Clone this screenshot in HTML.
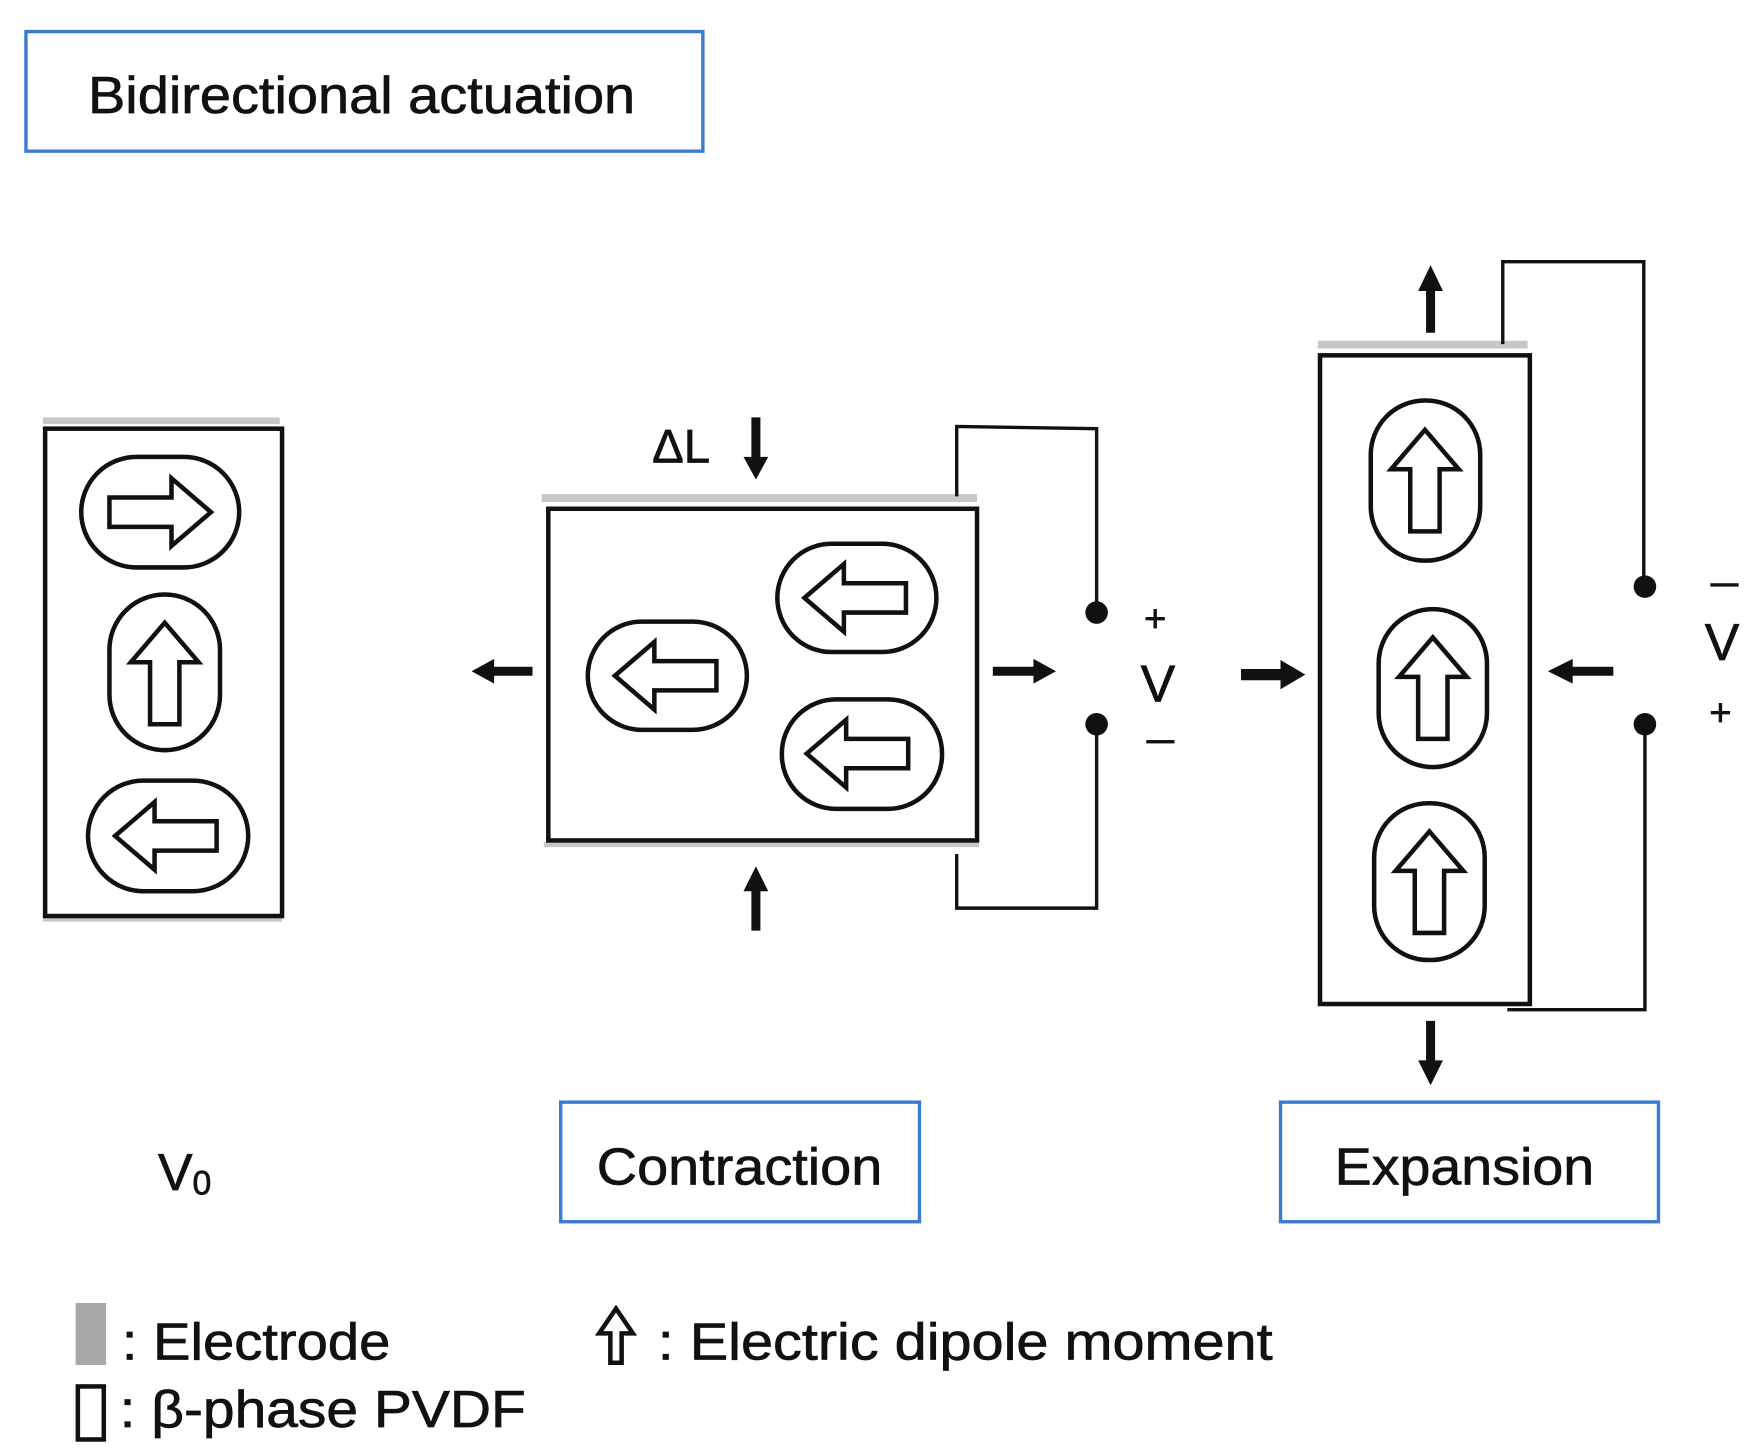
<!DOCTYPE html>
<html><head><meta charset="utf-8"><style>
html,body{margin:0;padding:0;background:#fff}
svg{display:block}
text{font-family:"Liberation Sans",sans-serif;fill:#111;stroke:#111;stroke-width:0.6}
</style></head><body>
<svg width="1760" height="1453" viewBox="0 0 1560 1288" preserveAspectRatio="none" xmlns="http://www.w3.org/2000/svg">
<defs>
<path id="ha" d="M-45,-13 L10,-13 L10,-30 L45,0 L10,30 L10,13 L-45,13 Z" fill="#fff" stroke="#111" stroke-width="4" stroke-linejoin="miter"/>
</defs>
<!-- title -->
<rect x="23" y="28" width="600" height="106" fill="none" stroke="#3b7bd0" stroke-width="3"/>
<text x="78" y="100" font-size="46" textLength="485" lengthAdjust="spacingAndGlyphs">Bidirectional actuation</text>

<!-- left box -->
<rect x="38" y="370" width="210" height="6" fill="#c8c8c8"/>
<rect x="38" y="812" width="212" height="5" fill="#c8c8c8"/>
<rect x="40" y="380" width="210" height="432" fill="none" stroke="#111" stroke-width="4"/>
<rect x="72" y="405" width="140" height="98" rx="49" fill="none" stroke="#111" stroke-width="4"/>
<use href="#ha" transform="translate(142,454)"/>
<rect x="97" y="527" width="98" height="138" rx="49" fill="none" stroke="#111" stroke-width="4"/>
<use href="#ha" transform="translate(146,597) rotate(-90)"/>
<rect x="78" y="692" width="142" height="98" rx="49" fill="none" stroke="#111" stroke-width="4"/>
<use href="#ha" transform="translate(147,741) rotate(180)"/>

<!-- middle -->
<rect x="480" y="438" width="386" height="7" fill="#c8c8c8"/>
<rect x="482" y="746" width="386" height="5" fill="#c8c8c8"/>
<rect x="486" y="451" width="380" height="294" fill="none" stroke="#111" stroke-width="4"/>
<rect x="521" y="551" width="141" height="96" rx="48" fill="none" stroke="#111" stroke-width="4"/>
<use href="#ha" transform="translate(590,599) rotate(180)"/>
<rect x="689" y="482" width="141" height="96" rx="48" fill="none" stroke="#111" stroke-width="4"/>
<use href="#ha" transform="translate(758,530) rotate(180)"/>
<rect x="693" y="620" width="142" height="97" rx="48" fill="none" stroke="#111" stroke-width="4"/>
<use href="#ha" transform="translate(760,668) rotate(180)"/>
<text x="578" y="410" font-size="42">ΔL</text>
<path d="M670,370 L670,408" stroke="#111" stroke-width="8"/><path d="M659,405 L681,405 L670,425Z" fill="#111"/>
<path d="M670,825 L670,787" stroke="#111" stroke-width="8"/><path d="M659,790 L681,790 L670,768Z" fill="#111"/>
<path d="M472,595 L436,595" stroke="#111" stroke-width="8"/><path d="M438,584 L438,606 L418,595Z" fill="#111"/>
<path d="M880,595 L918,595" stroke="#111" stroke-width="8"/><path d="M916,584 L916,606 L936,595Z" fill="#111"/>
<path d="M848,440 L848,378 L972,380 L972,543" fill="none" stroke="#111" stroke-width="3"/>
<path d="M848,757 L848,805 L972,805 L972,642" fill="none" stroke="#111" stroke-width="3"/>
<circle cx="972" cy="543" r="10" fill="#111"/><circle cx="972" cy="642" r="10" fill="#111"/>
<text x="1014" y="560" font-size="34">+</text>
<text x="1011" y="622" font-size="46">V</text>
<rect x="1016" y="656" width="25" height="3" fill="#111"/>

<!-- arrow between -->
<path d="M1100,598 L1138,598" stroke="#111" stroke-width="10"/><path d="M1135,585 L1135,611 L1157,598Z" fill="#111"/>

<!-- right -->
<rect x="1168" y="302" width="186" height="7" fill="#c8c8c8"/>
<rect x="1170" y="315" width="186" height="575" fill="none" stroke="#111" stroke-width="4"/>
<rect x="1215" y="355" width="97" height="142" rx="48" fill="none" stroke="#111" stroke-width="4"/>
<use href="#ha" transform="translate(1263,426) rotate(-90)"/>
<rect x="1222" y="540" width="96" height="140" rx="48" fill="none" stroke="#111" stroke-width="4"/>
<use href="#ha" transform="translate(1270,610) rotate(-90)"/>
<rect x="1218" y="712" width="98" height="139" rx="48" fill="none" stroke="#111" stroke-width="4"/>
<use href="#ha" transform="translate(1267,782) rotate(-90)"/>
<path d="M1268,295 L1268,255" stroke="#111" stroke-width="8"/><path d="M1257,258 L1279,258 L1268,235Z" fill="#111"/>
<path d="M1268,905 L1268,943" stroke="#111" stroke-width="8"/><path d="M1257,940 L1279,940 L1268,962Z" fill="#111"/>
<path d="M1430,595 L1392,595" stroke="#111" stroke-width="8"/><path d="M1394,584 L1394,606 L1372,595Z" fill="#111"/>
<path d="M1332,305 L1332,232 L1457,232 L1457,520" fill="none" stroke="#111" stroke-width="3"/>
<path d="M1336,895 L1458,895 L1458,642" fill="none" stroke="#111" stroke-width="3"/>
<circle cx="1458" cy="520" r="10" fill="#111"/><circle cx="1458" cy="642" r="10" fill="#111"/>
<rect x="1516" y="517" width="25" height="3" fill="#111"/>
<text x="1511" y="585" font-size="46">V</text>
<text x="1515" y="643" font-size="34">+</text>

<!-- labels -->
<text x="140" y="1055" font-size="46">V<tspan font-size="30" dy="4">0</tspan></text>
<rect x="497" y="977" width="318" height="106" fill="none" stroke="#3b7bd0" stroke-width="3"/>
<text x="529" y="1050" font-size="46" textLength="253" lengthAdjust="spacingAndGlyphs">Contraction</text>
<rect x="1135" y="977" width="335" height="106" fill="none" stroke="#3b7bd0" stroke-width="3"/>
<text x="1183" y="1050" font-size="46" textLength="230" lengthAdjust="spacingAndGlyphs">Expansion</text>

<!-- legend -->
<rect x="67" y="1155" width="27" height="55" fill="#a8a8a8"/>
<text x="108" y="1205" font-size="46" textLength="238" lengthAdjust="spacingAndGlyphs">: Electrode</text>
<rect x="69" y="1229" width="23" height="47" fill="none" stroke="#111" stroke-width="4"/>
<text x="106" y="1265" font-size="46" textLength="360" lengthAdjust="spacingAndGlyphs">:  β-phase PVDF</text>
<path d="M541,1208 L541,1182 L531,1182 L546,1160 L561,1182 L551,1182 L551,1208 Z" fill="#fff" stroke="#111" stroke-width="4"/>
<text x="583" y="1205" font-size="46" textLength="545" lengthAdjust="spacingAndGlyphs">:  Electric dipole moment</text>
</svg>
</body></html>
